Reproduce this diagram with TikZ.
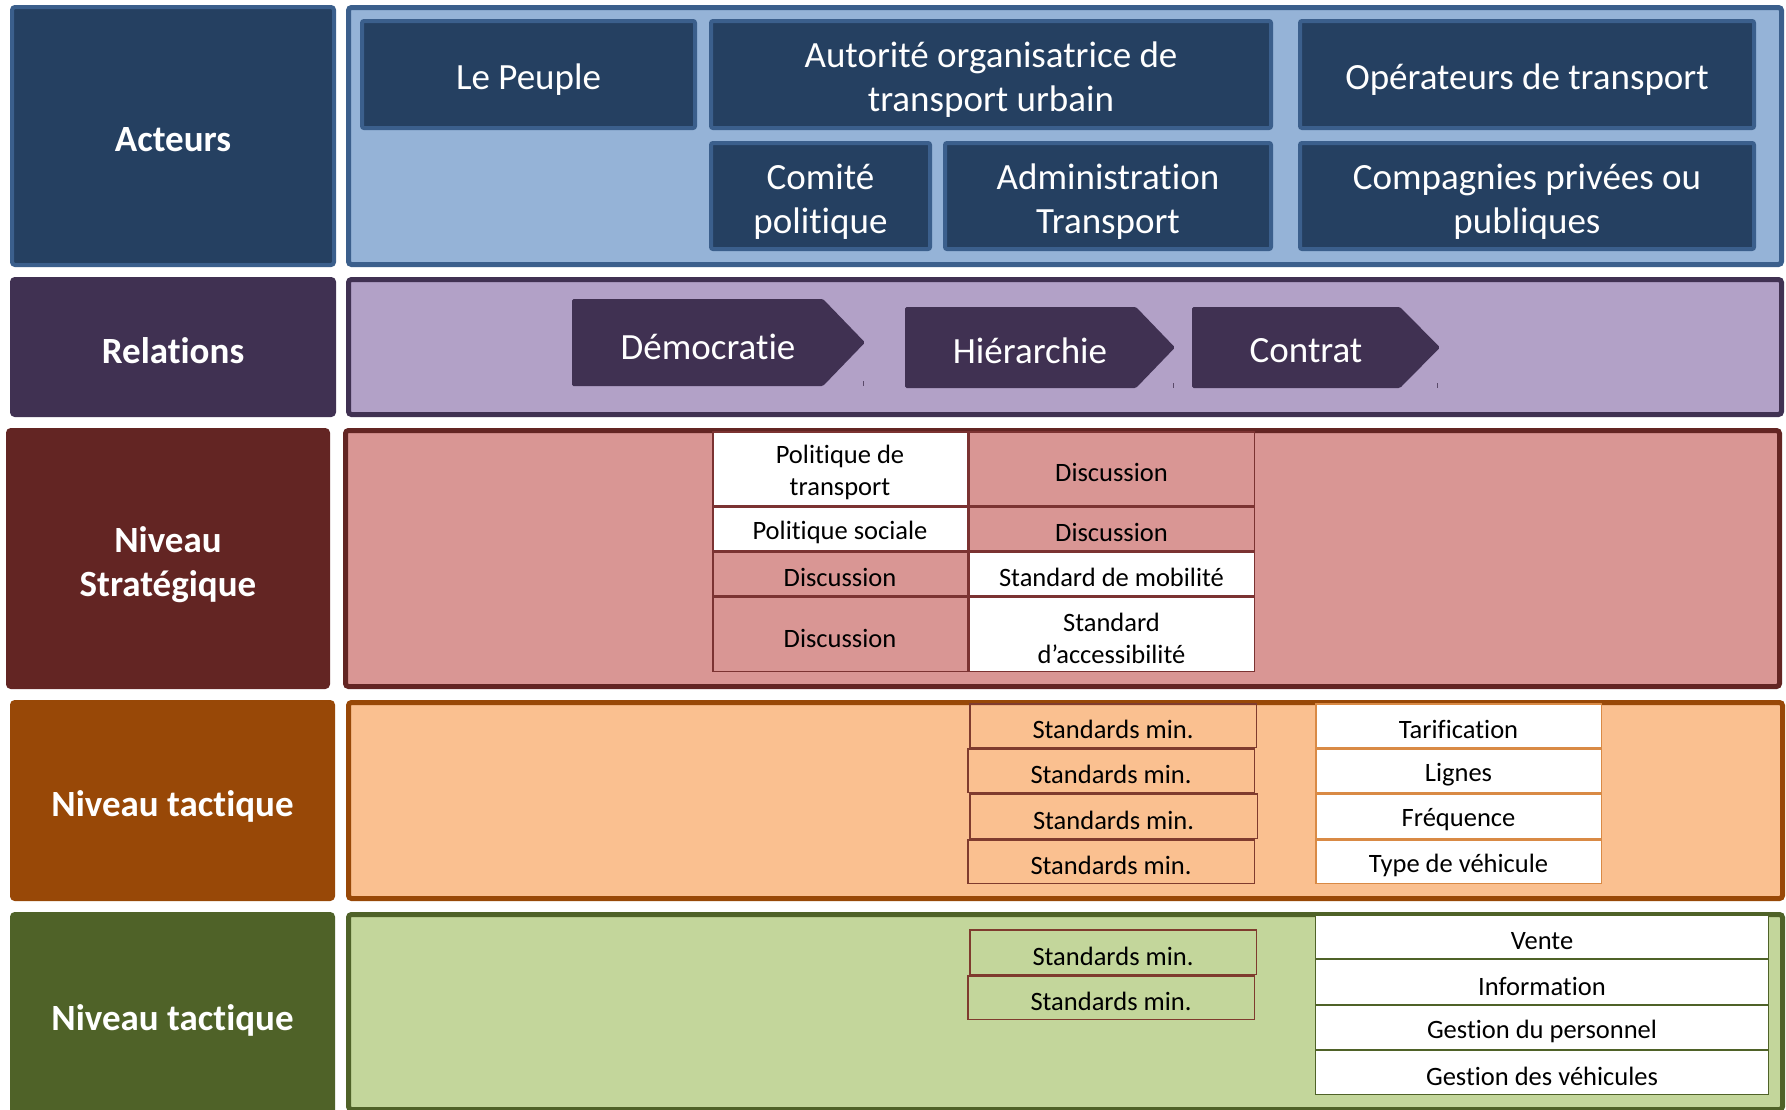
\documentclass[tikz,border=0pt]{standalone}
\usepackage{fontspec}
\setmainfont{Carlito}[Ligatures=NoCommon]
\definecolor{navy}{HTML}{254061}
\definecolor{navyline}{HTML}{3B5F8C}
\definecolor{skyfill}{HTML}{95B3D7}
\definecolor{plum}{HTML}{403152}
\definecolor{lilac}{HTML}{B2A1C7}
\definecolor{maroon}{HTML}{632523}
\definecolor{rose}{HTML}{D99694}
\definecolor{rust}{HTML}{984807}
\definecolor{peach}{HTML}{FAC090}
\definecolor{olive}{HTML}{4F6228}
\definecolor{pale}{HTML}{C3D69B}
\definecolor{cellline}{HTML}{7B3332}
\definecolor{stdline}{HTML}{7F3B2E}
\definecolor{orline}{HTML}{D98A45}
\definecolor{tickgray}{HTML}{5A4A6A}
\newcommand\ins{4}
\newcommand\tdrop{5pt}
% name, boxstyle, x1, y1, x2, y2, textstyle, text (outer edges, y downward)
\newcommand\bx[8]{%
  \node[#2, minimum width={#5-#3-\ins}, minimum height={#6-#4-\ins}] (#1) at ({(#3+#5)/2},{(#4+#6)/2}) {};
  \node[#7] (#1-txt) at ([yshift=-\tdrop]#1.center) {#8};}
\tikzset{
  bigtext/.style={text=white, font=\fontsize{37}{44}\selectfont, align=center, inner sep=0pt},
  boldtext/.style={text=white, font=\bfseries\fontsize{37}{44}\selectfont, align=center, inner sep=0pt},
  smalltext/.style={text=black, font=\fontsize{26.5}{32}\selectfont, align=center, inner sep=0pt},
  labelbox/.style 2 args={draw=#1, fill=#2, line width=4pt, rounded corners=3pt, inner sep=0pt},
  panel/.style 2 args={draw=#1, fill=#2, line width=5pt, rounded corners=3pt, inner sep=0pt},
  actor/.style={draw=navyline, fill=navy, line width=4pt, rounded corners=2pt, inner sep=0pt},
  chev/.style={fill=plum, rounded corners=1.5pt},
  tick/.style={draw=tickgray, line width=1pt},
  cellw/.style={draw=cellline, fill=white, line width=1.5pt, inner sep=0pt},
  cellp/.style={draw=cellline, fill=rose, line width=1.5pt, inner sep=0pt},
  stdbox/.style={draw=stdline, line width=1.5pt, inner sep=0pt},
  orbox/.style={draw=orline, fill=white, line width=1.5pt, inner sep=0pt},
  grbox/.style={draw=olive, fill=white, line width=1.2pt, inner sep=0pt},
}
\begin{document}
\begin{tikzpicture}[x=1pt,y=-1pt]
\clip (0,0) rectangle (1786,1109);
\fill[white] (0,0) rectangle (1786,1109);

% ---- Panels ----
\renewcommand\ins{5}
\bx{pacteurs}{panel={navyline}{skyfill}}{346}{5}{1784}{267}{bigtext}{}
\bx{prel}{panel={plum}{lilac}}{346}{277}{1784}{417}{bigtext}{}
\bx{pstrat}{panel={maroon}{rose}}{343}{428}{1782}{689}{bigtext}{}
\bx{ptact}{panel={rust}{peach}}{346}{700}{1785}{901}{bigtext}{}
\bx{pope}{panel={olive}{pale}}{346}{912}{1785}{1112}{bigtext}{}

% ---- Left labels ----
\renewcommand\ins{4}
\renewcommand\tdrop{4pt}
\bx{lacteurs}{labelbox={navyline}{navy}}{10}{5}{336}{267}{boldtext}{Acteurs}
\bx{lrel}{labelbox={plum}{plum}}{10}{277}{336}{417}{boldtext}{Relations}
\renewcommand\tdrop{6pt}
\bx{lstrat}{labelbox={maroon}{maroon}}{6}{428}{330}{689}{boldtext}{Niveau\\Stratégique}
\bx{ltact}{labelbox={rust}{rust}}{10}{700}{335}{901}{boldtext}{Niveau tactique}
\renewcommand\tdrop{4pt}
\bx{lope}{labelbox={olive}{olive}}{10}{912}{335}{1120}{boldtext}{Niveau tactique}

% ---- Actors ----
\renewcommand\tdrop{5.5pt}
\bx{peuple}{actor}{360}{19}{697}{130}{bigtext}{Le Peuple}
\bx{aotu}{actor}{709}{19}{1273}{130}{bigtext}{Autorité organisatrice de\\transport urbain}
\bx{oper}{actor}{1298}{19}{1756}{130}{bigtext}{Opérateurs de transport}
\bx{comite}{actor}{709}{141}{932}{251}{bigtext}{Comité\\politique}
\bx{admin}{actor}{943}{141}{1273}{251}{bigtext}{Administration\\Transport}
\bx{compa}{actor}{1298}{141}{1756}{251}{bigtext}{Compagnies privées ou\\publiques}

% ---- Relations (chevrons) ----
\fill[chev] (572,299) -- (823,299) -- (865,342.5) -- (823,386) -- (572,386) -- cycle;
\fill[chev] (905,307) -- (1136,307) -- (1175,347.5) -- (1136,388) -- (905,388) -- cycle;
\fill[chev] (1192,307) -- (1400,307) -- (1440,347.5) -- (1400,388) -- (1192,388) -- cycle;
\node[bigtext] (demo) at (708,347) {Démocratie};
\node[bigtext] (hier) at (1030,350.5) {Hiérarchie};
\node[bigtext] (contrat) at (1306,351) {Contrat};
\coordinate (t1a) at (863,381); \coordinate (t1b) at (863,386);
\coordinate (t2a) at (1173,383); \coordinate (t2b) at (1173,388);
\coordinate (t3a) at (1437,383); \coordinate (t3b) at (1437,388);
\draw[tick] (t1a) -- (t1b);
\draw[tick] (t2a) -- (t2b);
\draw[tick] (t3a) -- (t3b);

% ---- Niveau stratégique table ----
\renewcommand\ins{1.5}
\renewcommand\tdrop{4pt}
\bx{s11}{cellw}{712}{431}{968}{506}{smalltext}{Politique de\\transport}
\bx{s12}{cellp}{968}{431}{1255}{506}{smalltext}{Discussion}
\bx{s21}{cellw}{712}{506}{968}{551}{smalltext}{Politique sociale}
\bx{s22}{cellp}{968}{506}{1255}{551}{smalltext}{Discussion}
\bx{s31}{cellp}{712}{551}{968}{596}{smalltext}{Discussion}
\bx{s32}{cellw}{968}{551}{1255}{596}{smalltext}{Standard de mobilité}
\bx{s41}{cellp}{712}{596}{968}{672}{smalltext}{Discussion}
\bx{s42}{cellw}{968}{596}{1255}{672}{smalltext}{Standard\\d’accessibilité}

% ---- Niveau tactique (orange) ----
\bx{o1}{stdbox}{969}{703}{1257}{748}{smalltext}{Standards min.}
\bx{o2}{stdbox}{967}{748}{1255}{793}{smalltext}{Standards min.}
\bx{o3}{stdbox}{969}{793}{1258}{839}{smalltext}{Standards min.}
\bx{o4}{stdbox}{967}{839}{1255}{884}{smalltext}{Standards min.}
\bx{t1}{orbox}{1315}{703}{1602}{748}{smalltext}{Tarification}
\bx{t2}{orbox}{1315}{748}{1602}{793}{smalltext}{Lignes}
\bx{t3}{orbox}{1315}{793}{1602}{839}{smalltext}{Fréquence}
\bx{t4}{orbox}{1315}{839}{1602}{884}{smalltext}{Type de véhicule}

% ---- Niveau tactique (vert) ----
\bx{g1}{stdbox}{969}{929}{1257}{975}{smalltext}{Standards min.}
\bx{g2}{stdbox}{967}{975}{1255}{1020}{smalltext}{Standards min.}
\bx{v1}{grbox}{1315}{915}{1769}{959}{smalltext}{Vente}
\bx{v2}{grbox}{1315}{959}{1769}{1005}{smalltext}{Information}
\bx{v3}{grbox}{1315}{1005}{1769}{1050}{smalltext}{Gestion du personnel}
\bx{v4}{grbox}{1315}{1050}{1769}{1095}{smalltext}{Gestion des véhicules}
\end{tikzpicture}
\end{document}
